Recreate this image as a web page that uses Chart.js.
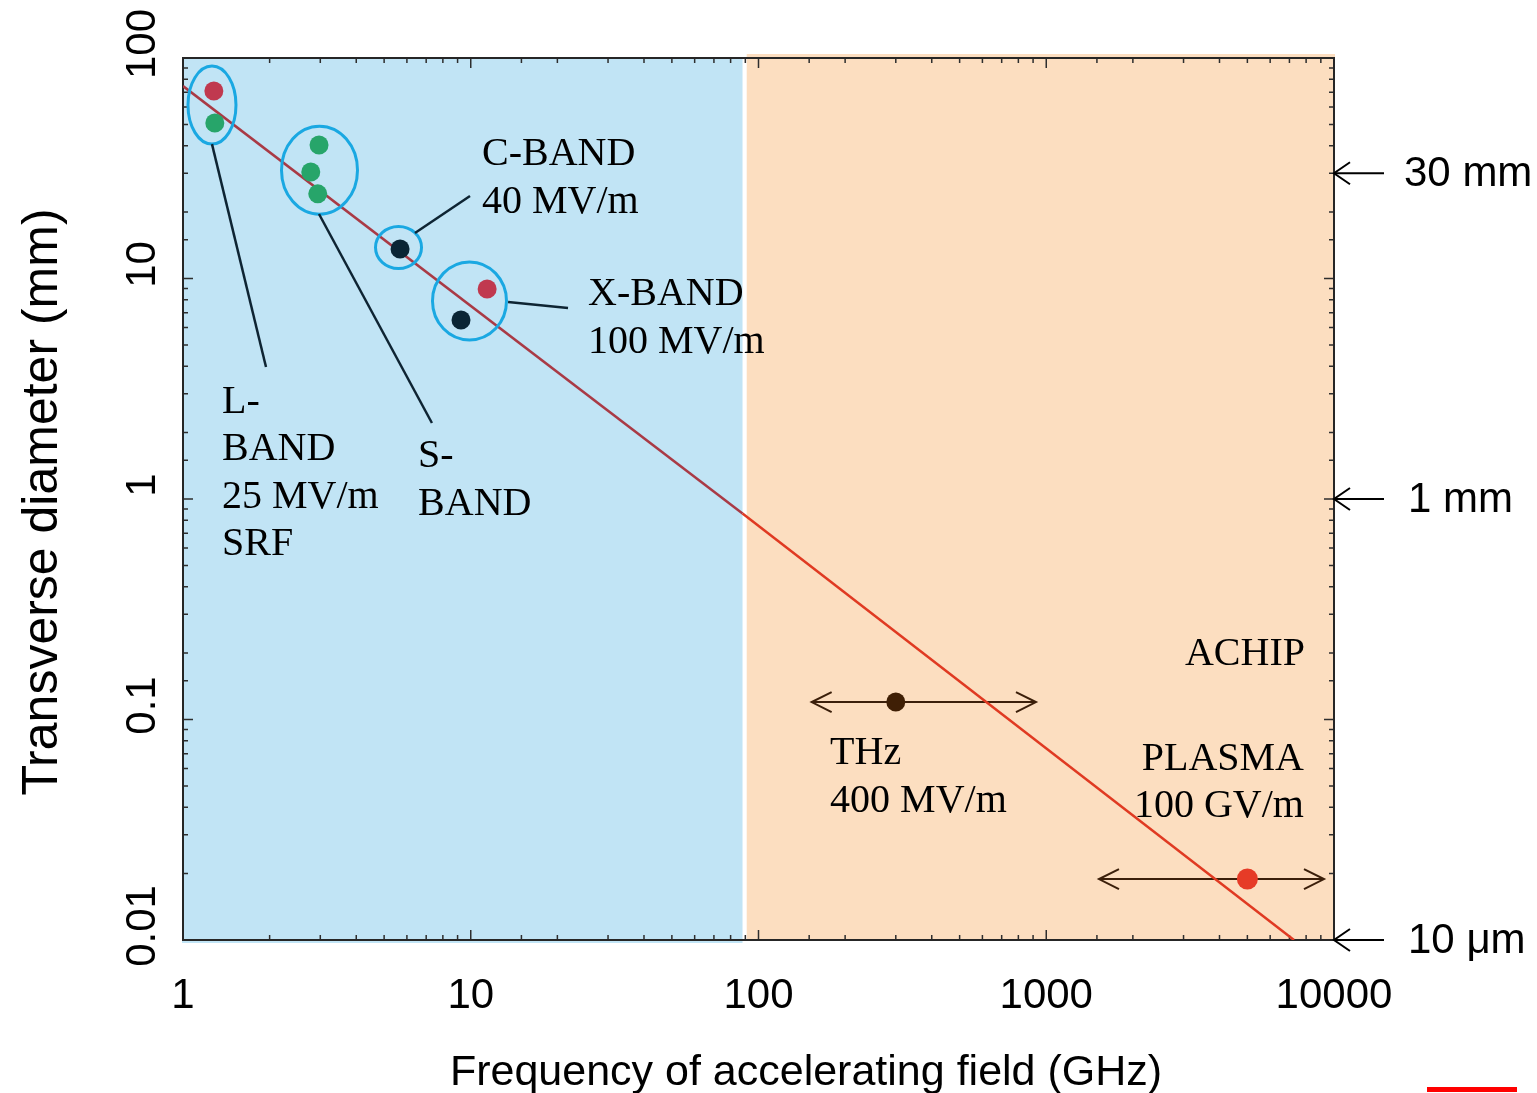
<!DOCTYPE html>
<html>
<head>
<meta charset="utf-8">
<script src="https://cdn.jsdelivr.net/npm/chart.js@4.4.1/dist/chart.umd.min.js"></script>
<style>
html,body{margin:0;padding:0;background:#ffffff;}
#wrap{width:1537px;height:1093px;position:relative;}
</style>
</head>
<body>
<div id="wrap"><canvas id="c" width="1537" height="1093"></canvas></div>
<script>
// ---------- data ----------
const xTickValues = [1, 10, 100, 1000, 10000];
const xTickLabels = ['1', '10', '100', '1000', '10000'];
const yTickValues = [100, 10, 1, 0.1, 0.01];
const yTickLabels = ['100', '10', '1', '0.1', '0.01'];

// frequency bands (GHz)
const blueBand = [1, 88];
const orangeBand = [91, 10000];

// measured points: frequency (GHz) and transverse diameter (mm)
const redFreq = [1.28, 11.4];
const redDiam = [70.8, 8.96];
const greenFreq = [1.29, 2.97, 2.78, 2.94];
const greenDiam = [50.7, 40.3, 30.4, 24.2];
const darkFreq = [5.68, 9.25];
const darkDiam = [13.6, 6.48];
const thzFreq = [300];
const thzDiam = [0.12];
const thzRange = [153, 921];
const plasmaFreq = [5000];
const plasmaDiam = [0.0189];
const plasmaRange = [1525, 9230];

// scaling trend line
const trendFreq = [1, 88, 7260];
const trendDiam = [74.6, 0.86, 0.01];

// right-side reference marks
const refValues = [30, 1, 0.01];
const refLabels = ['30 mm', '1 mm', '10 \u03bcm'];

// ---------- annotations (data coordinates) ----------
const ellipses = [
  {x: 1.261, y: 61.2, rx: 24, ry: 39},
  {x: 2.981, y: 31.0, rx: 38, ry: 44},
  {x: 5.61, y: 13.82, rx: 23, ry: 21},
  {x: 9.90, y: 7.91, rx: 37, ry: 39}
];
const leaders = [
  [1.261, 40.7, 1.943, 3.97],
  [2.969, 19.61, 7.33, 2.211],
  [6.40, 16.08, 9.94, 23.66],
  [13.48, 7.82, 21.78, 7.35]
];
const notes = [
  {t: 'C-BAND', x: 10.94, y: 32.7},
  {t: '40 MV/m', x: 10.94, y: 19.82},
  {t: 'X-BAND', x: 25.56, y: 7.58},
  {t: '100 MV/m', x: 25.56, y: 4.59},
  {t: 'L-', x: 1.366, y: 2.455},
  {t: 'BAND', x: 1.366, y: 1.503},
  {t: '25 MV/m', x: 1.366, y: 0.910},
  {t: 'SRF', x: 1.366, y: 0.557},
  {t: 'S-', x: 6.56, y: 1.397},
  {t: 'BAND', x: 6.56, y: 0.846},
  {t: 'THz', x: 177.3, y: 0.0628},
  {t: '400 MV/m', x: 177.3, y: 0.0381},
  {t: 'ACHIP', x: 7928, y: 0.1767, align: 'right'},
  {t: 'PLASMA', x: 7865, y: 0.0590, align: 'right'},
  {t: '100 GV/m', x: 7865, y: 0.0361, align: 'right'}
];

const SANS = '"Liberation Sans", Arial, sans-serif';
const SERIF = '"Liberation Serif", "Times New Roman", serif';

function zip(xs, ys) { return xs.map((x, i) => ({x: x, y: ys[i]})); }
function isPow10(v) { const l = Math.log10(v); return Math.abs(l - Math.round(l)) < 1e-6; }
function PX(chart, v) { return chart.scales.x.getPixelForValue(v); }
function PY(chart, v) { return chart.scales.y.getPixelForValue(v); }
function head(ctx, tx, ty, dir, len, half) {
  ctx.beginPath();
  ctx.moveTo(tx - dir * len, ty - half);
  ctx.lineTo(tx, ty);
  ctx.lineTo(tx - dir * len, ty + half);
  ctx.stroke();
}

const decorPlugin = {
  id: 'decor',
  beforeDraw(chart) {
    const ctx = chart.ctx, ca = chart.chartArea;
    ctx.save();
    ctx.fillStyle = '#ffffff';
    ctx.fillRect(0, 0, chart.width, chart.height);
    const b1 = PX(chart, blueBand[0]) - 1, b2 = PX(chart, blueBand[1]);
    ctx.fillStyle = '#c1e4f5';
    ctx.fillRect(b1, ca.top, b2 - b1, ca.bottom - ca.top + 3);
    const o1 = PX(chart, orangeBand[0]), o2 = PX(chart, orangeBand[1]) + 1;
    ctx.fillStyle = '#fcdec0';
    ctx.fillRect(o1, ca.top - 4, o2 - o1, ca.bottom - ca.top + 4);
    ctx.restore();
  },
  beforeDatasetsDraw(chart) {
    const ctx = chart.ctx, ca = chart.chartArea;
    ctx.save();
    ctx.strokeStyle = '#2e2e2e';
    ctx.lineWidth = 1.5;
    chart.scales.x.ticks.forEach(t => {
      const v = t.value;
      if (v < 1 || v > 10000) return;
      const x = PX(chart, v), L = isPow10(v) ? 10 : 5;
      ctx.beginPath();
      ctx.moveTo(x, ca.bottom); ctx.lineTo(x, ca.bottom - L);
      ctx.moveTo(x, ca.top); ctx.lineTo(x, ca.top + L);
      ctx.stroke();
    });
    chart.scales.y.ticks.forEach(t => {
      const v = t.value;
      if (v < 0.01 || v > 100) return;
      const y = PY(chart, v), L = isPow10(v) ? 10 : 5;
      ctx.beginPath();
      ctx.moveTo(ca.left, y); ctx.lineTo(ca.left + L, y);
      ctx.moveTo(ca.right, y); ctx.lineTo(ca.right - L, y);
      ctx.stroke();
    });
    ctx.strokeStyle = '#262626';
    ctx.lineWidth = 2;
    ctx.strokeRect(ca.left, ca.top, ca.right - ca.left, ca.bottom - ca.top);

    ctx.fillStyle = '#000000';
    ctx.font = '42px ' + SANS;
    ctx.textAlign = 'center';
    ctx.textBaseline = 'alphabetic';
    xTickValues.forEach((v, i) => {
      ctx.fillText(xTickLabels[i], PX(chart, v), ca.bottom + 68);
    });
    yTickValues.forEach((v, i) => {
      ctx.save();
      ctx.translate(ca.left - 28, PY(chart, v) - 14);
      ctx.rotate(-Math.PI / 2);
      ctx.fillText(yTickLabels[i], 0, 0);
      ctx.restore();
    });
    ctx.font = '43px ' + SANS;
    ctx.fillText('Frequency of accelerating field (GHz)', 806, ca.bottom + 145);
    ctx.save();
    ctx.font = '50px ' + SANS;
    ctx.translate(57, 502);
    ctx.rotate(-Math.PI / 2);
    ctx.fillText('Transverse diameter (mm)', 0, 0);
    ctx.restore();
    ctx.restore();
  },
  afterDatasetsDraw(chart) {
    const ctx = chart.ctx, ca = chart.chartArea;
    ctx.save();
    ctx.strokeStyle = '#3b1f0a';
    ctx.lineWidth = 2;
    [5, 6].forEach(idx => {
      const meta = chart.getDatasetMeta(idx);
      const p0 = meta.data[0], p1 = meta.data[1];
      head(ctx, p0.x, p0.y, -1, 20, 10);
      head(ctx, p1.x, p1.y, 1, 20, 10);
    });
    ctx.strokeStyle = '#1aa8e2';
    ctx.lineWidth = 3;
    ellipses.forEach(e => {
      ctx.beginPath();
      ctx.ellipse(PX(chart, e.x), PY(chart, e.y), e.rx, e.ry, 0, 0, Math.PI * 2);
      ctx.stroke();
    });
    ctx.strokeStyle = '#0e2433';
    ctx.lineWidth = 2.5;
    leaders.forEach(l => {
      ctx.beginPath();
      ctx.moveTo(PX(chart, l[0]), PY(chart, l[1]));
      ctx.lineTo(PX(chart, l[2]), PY(chart, l[3]));
      ctx.stroke();
    });
    ctx.fillStyle = '#000000';
    ctx.font = '40px ' + SERIF;
    ctx.textBaseline = 'alphabetic';
    notes.forEach(n => {
      ctx.textAlign = n.align || 'left';
      ctx.fillText(n.t, PX(chart, n.x), PY(chart, n.y));
    });
    ctx.strokeStyle = '#000000';
    ctx.lineWidth = 2;
    ctx.font = '42px ' + SANS;
    ctx.textAlign = 'left';
    ctx.textBaseline = 'middle';
    refValues.forEach((v, i) => {
      const y = PY(chart, v);
      ctx.beginPath();
      ctx.moveTo(ca.right + 50, y); ctx.lineTo(ca.right, y);
      ctx.stroke();
      head(ctx, ca.right, y, -1, 16, 11);
      ctx.fillText(refLabels[i], ca.right + (i === 0 ? 70 : 74), y + 1);
    });
    ctx.fillStyle = '#ff0000';
    ctx.fillRect(1427, 1087, 90, 5);
    ctx.restore();
  }
};

const dot = (label, xs, ys, color, r, order) => ({
  type: 'scatter', label: label, data: zip(xs, ys),
  backgroundColor: color, borderColor: color, borderWidth: 0,
  pointRadius: r, pointHoverRadius: r, order: order
});

const chart = new Chart(document.getElementById('c'), {
  type: 'scatter',
  data: {
    datasets: [
      dot('red', redFreq, redDiam, '#c0394f', 9.5, 0),
      dot('green', greenFreq, greenDiam, '#27a56a', 9.5, 0),
      dot('dark', darkFreq, darkDiam, '#0a2535', 9.5, 0),
      dot('THz', thzFreq, thzDiam, '#3f1f05', 9.5, 0),
      dot('plasma', plasmaFreq, plasmaDiam, '#e63b27', 10.5, 0),
      {type: 'line', label: 'THz range', data: zip(thzRange, [thzDiam[0], thzDiam[0]]),
       borderColor: '#3b1f0a', borderWidth: 2, pointRadius: 0, order: 2},
      {type: 'line', label: 'plasma range', data: zip(plasmaRange, [plasmaDiam[0], plasmaDiam[0]]),
       borderColor: '#3b1f0a', borderWidth: 2, pointRadius: 0, order: 2},
      {type: 'line', label: 'trend', data: zip(trendFreq, trendDiam),
       borderWidth: 2.5, pointRadius: 0, order: 1, borderColor: '#e03a22',
       segment: {borderColor: c => c.p0DataIndex === 0 ? '#a93a45' : '#e03a22'}}
    ]
  },
  options: {
    responsive: false,
    animation: false,
    events: [],
    layout: {padding: {left: 183, top: 58, right: 203, bottom: 153}},
    plugins: {legend: {display: false}, tooltip: {enabled: false}},
    scales: {
      x: {
        type: 'logarithmic', min: 1, max: 10000, position: 'bottom',
        grid: {display: false, drawTicks: false}, border: {display: false},
        ticks: {display: false, autoSkip: false},
        afterFit: s => { s.height = 0; }
      },
      y: {
        type: 'logarithmic', min: 0.01, max: 100, position: 'left',
        grid: {display: false, drawTicks: false}, border: {display: false},
        ticks: {display: false, autoSkip: false},
        afterFit: s => { s.width = 0; }
      }
    }
  },
  plugins: [decorPlugin]
});
</script>
</body>
</html>
